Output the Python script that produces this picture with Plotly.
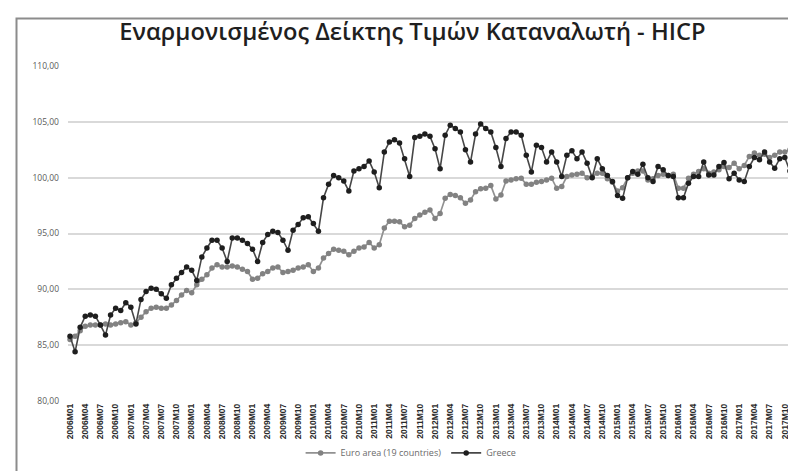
import plotly.graph_objects as go

# Monthly categories 2006M01 .. 2017M12
years = list(range(2006, 2018))
months = [f"{y}M{m:02d}" for y in years for m in range(1, 13)]

greece = [
    85.8, 84.4, 86.6, 87.6, 87.7, 87.6, 86.8, 85.9, 87.7, 88.3, 88.1, 88.8,   # 2006
    88.4, 86.9, 89.1, 89.8, 90.1, 90.0, 89.6, 89.2, 90.4, 91.0, 91.5, 92.0,   # 2007
    91.7, 90.8, 92.9, 93.7, 94.4, 94.4, 93.7, 92.5, 94.6, 94.6, 94.4, 94.1,   # 2008
    93.6, 92.5, 94.2, 94.9, 95.2, 95.1, 94.4, 93.5, 95.3, 95.8, 96.4, 96.5,   # 2009
    95.9, 95.2, 98.2, 99.4, 100.2, 100.0, 99.7, 98.8, 100.6, 100.8, 101.0, 101.5,  # 2010
    100.5, 99.1, 102.3, 103.2, 103.4, 103.1, 101.7, 100.1, 103.6, 103.7, 103.9, 103.7,  # 2011
    102.6, 100.8, 103.8, 104.7, 104.4, 104.1, 102.5, 101.4, 103.9, 104.8, 104.4, 104.1,  # 2012
    102.7, 101.0, 103.5, 104.1, 104.1, 103.8, 102.0, 100.5, 102.9, 102.7, 101.4, 102.3,  # 2013
    101.4, 100.1, 102.0, 102.4, 101.7, 102.3, 101.3, 100.0, 101.7, 100.8, 100.2, 99.65,  # 2014
    98.4, 98.15, 100.0, 100.55, 100.3, 101.2, 100.0, 99.65, 101.0, 100.7, 100.2, 100.1,  # 2015
    98.2, 98.2, 99.5, 100.1, 100.1, 101.4, 100.25, 100.25, 101.0, 101.35, 99.9, 100.4,  # 2016
    99.8, 99.65, 101.0, 101.8, 101.6, 102.3, 101.4, 100.85, 101.7, 101.8, 100.6, 101.3,  # 2017
]

euro_area = [
    85.5, 85.8, 86.3, 86.7, 86.8, 86.8, 86.8, 86.9, 86.8, 86.9, 87.0, 87.1,   # 2006
    86.8, 87.0, 87.5, 88.0, 88.3, 88.4, 88.3, 88.3, 88.6, 89.0, 89.5, 89.9,   # 2007
    89.7, 90.4, 90.9, 91.3, 91.9, 92.2, 92.0, 92.0, 92.1, 92.0, 91.8, 91.6,   # 2008
    90.9, 91.0, 91.4, 91.6, 91.9, 92.0, 91.5, 91.6, 91.7, 91.9, 92.0, 92.2,   # 2009
    91.6, 91.9, 92.8, 93.2, 93.6, 93.5, 93.4, 93.1, 93.4, 93.7, 93.8, 94.2,   # 2010
    93.7, 94.0, 95.5, 96.1, 96.1, 96.05, 95.6, 95.75, 96.35, 96.65, 96.9, 97.1,  # 2011
    96.35, 96.8, 98.15, 98.5, 98.4, 98.2, 97.7, 98.0, 98.75, 99.0, 99.05, 99.3,  # 2012
    98.1, 98.45, 99.7, 99.8, 99.9, 99.95, 99.4, 99.4, 99.6, 99.65, 99.8, 99.95,  # 2013
    99.05, 99.2, 100.1, 100.25, 100.3, 100.4, 100.0, 100.1, 100.4, 100.4, 99.9, 99.6,  # 2014
    98.8, 99.1, 100.0, 100.4, 100.6, 100.6, 99.8, 99.9, 100.2, 100.3, 100.2, 100.3,  # 2015
    99.05, 99.05, 99.95, 100.3, 100.55, 100.8, 100.4, 100.5, 100.7, 101.0, 100.9, 101.3,  # 2016
    100.8, 101.1, 101.9, 102.2, 102.0, 102.1, 101.8, 102.0, 102.3, 102.3, 102.5, 102.75,  # 2017
]

y_ticks = [80, 85, 90, 95, 100, 105, 110]
y_tick_labels = ["80,00", "85,00", "90,00", "95,00", "100,00", "105,00", "110,00"]

title_text = "Εναρμονισμένος Δείκτης Τιμών Καταναλωτή - HICP"
series_names = ["Euro area (19 countries)", "Greece"]

idx = list(range(len(months)))
x_tick_idx = idx[::3]
x_tick_text = [months[i] for i in x_tick_idx]

fig = go.Figure()
fig.add_trace(go.Scatter(
    x=idx, y=euro_area, name=series_names[0], mode="lines+markers",
    line=dict(color="#919191", width=1.7),
    marker=dict(color="#828282", size=5.5),
    cliponaxis=False,
))
fig.add_trace(go.Scatter(
    x=idx, y=greece, name=series_names[1], mode="lines+markers",
    line=dict(color="#474747", width=1.6),
    marker=dict(color="#1e1e1e", size=5.5),
    cliponaxis=False,
))

fig.update_layout(
    width=796, height=471,
    margin=dict(l=60, r=6, t=58, b=78),
    paper_bgcolor="white", plot_bgcolor="white",
    font=dict(family="Open Sans, sans-serif", color="#595959"),
    title=dict(
        text=title_text, x=0.508, xref="container", xanchor="center",
        y=1 - 24 / 471, yref="container", yanchor="middle",
        font=dict(family="Open Sans, sans-serif", size=23.7, color="#1f1f1f", weight=600),
    ),
    showlegend=True,
    legend=dict(
        orientation="h", x=0.47, xanchor="center", y=-0.155, yanchor="middle",
        font=dict(size=9, color="#6a6a6a"), itemwidth=30,
        bgcolor="rgba(0,0,0,0)",
    ),
    shapes=[dict(
        type="rect", xref="paper", yref="paper",
        x0=(8.5 - 60) / 730, x1=(805 - 60) / 730,
        y0=(393 - 480) / 335, y1=(393 - 10.5) / 335,
        line=dict(color="#8c8c8c", width=2), fillcolor="rgba(0,0,0,0)", layer="below",
    )],
)

fig.update_xaxes(
    range=[-0.4, 143.6], tickmode="array", tickvals=x_tick_idx, ticktext=x_tick_text,
    tickangle=-90, tickfont=dict(size=8.5, color="#2b2b2b", family="Liberation Sans, sans-serif", weight="bold"),
    showgrid=False, zeroline=False, showline=False, ticks="",
)
fig.update_yaxes(
    range=[80, 110], tickmode="array", tickvals=y_ticks, ticktext=y_tick_labels,
    tickfont=dict(size=8.5, color="#5a5a5a"),
    showgrid=True, gridcolor="#d9d9d9", gridwidth=1.5, zeroline=False, showline=False,
    ticks="", ticklabelstandoff=8,
)

fig.write_html("out.html")
